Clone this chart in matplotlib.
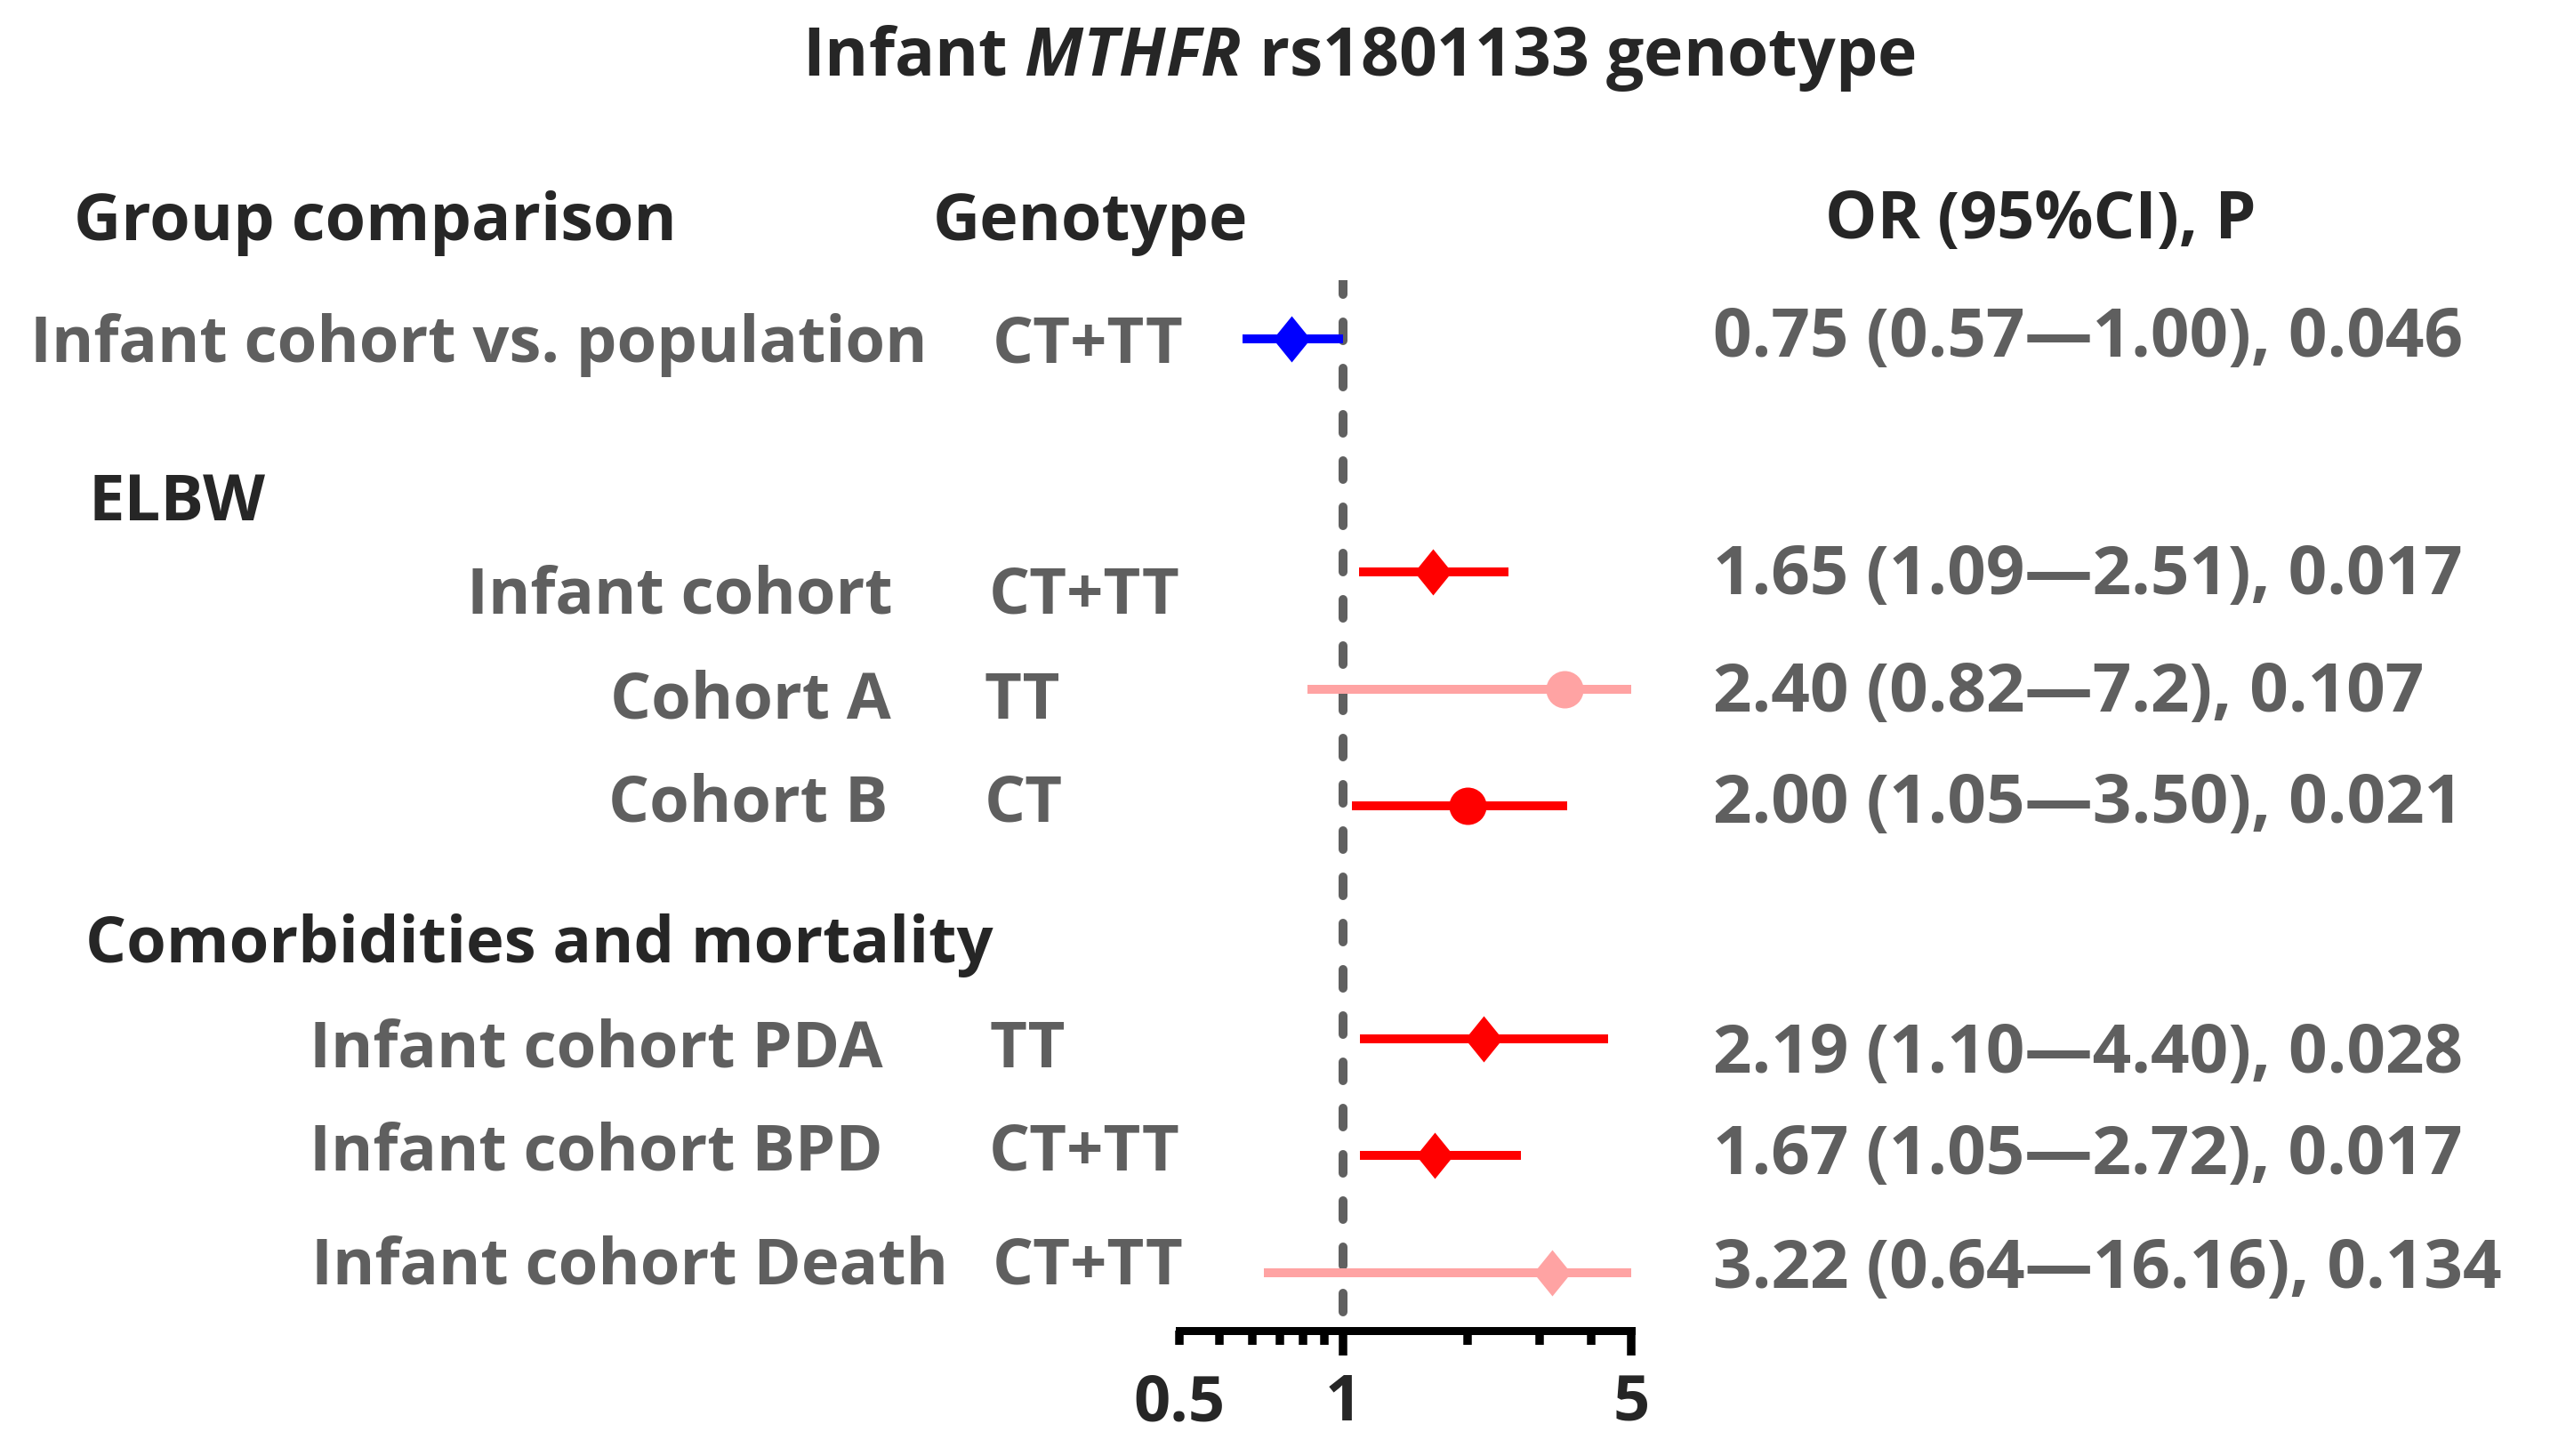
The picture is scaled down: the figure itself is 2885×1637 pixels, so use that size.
import matplotlib
matplotlib.use("Agg")
import matplotlib.pyplot as plt
from matplotlib.path import Path

# ---------------- data ----------------
title_text = r"Infant $\mathit{MTHFR}$ rs1801133 genotype"
header_group = "Group comparison"
header_geno = "Genotype"
header_or = "OR (95%CI), P"
section_labels = ["ELBW", "Comorbidities and mortality"]

groups = ["Infant cohort vs. population", "Infant cohort", "Cohort A", "Cohort B",
          "Infant cohort PDA", "Infant cohort BPD", "Infant cohort Death"]
genotypes = ["CT+TT", "CT+TT", "TT", "CT", "TT", "CT+TT", "CT+TT"]
or_texts = ["0.75 (0.57\u20141.00), 0.046", "1.65 (1.09\u20142.51), 0.017",
            "2.40 (0.82\u20147.2), 0.107", "2.00 (1.05\u20143.50), 0.021",
            "2.19 (1.10\u20144.40), 0.028", "1.67 (1.05\u20142.72), 0.017",
            "3.22 (0.64\u201416.16), 0.134"]
row_index = [0, 2, 3, 4, 6, 7, 8]
or_point = [0.75, 1.65, 3.45, 2.00, 2.19, 1.67, 3.22]
ci_low = [0.57, 1.09, 0.82, 1.05, 1.10, 1.10, 0.64]
ci_high = [1.00, 2.52, 7.2, 3.50, 4.40, 2.70, 16.16]

major_ticks = [1, 5]
major_labels = ["1", "5"]
minor_ticks = [0.4, 0.5, 0.6, 0.7, 0.8, 0.9, 2, 3, 4]
minor_labels = ["0.5", "", "", "", "", "", "", "", ""]

# ---------------- style / layout ----------------
W, H = 2885, 1637
DPI = 100
PT = 72.0 / DPI  # points per pixel
DARK = "#262626"
GRAY = "#5f5f5f"
BLUE = "#0000ff"
RED = "#ff0000"
PINK = "#ffa3a3"
row_colors = [BLUE, RED, PINK, RED, RED, RED, PINK]
row_markers = ["diamond", "diamond", "circle", "circle", "diamond", "diamond", "diamond"]

FS = 52       # general font size in pt
FS_TITLE = 54
FS_OR = 55
WEIGHT = "bold"
FAM = "Open Sans"

plt.rcParams["font.family"] = [FAM, "DejaVu Sans"]
plt.rcParams["mathtext.fontset"] = "custom"
plt.rcParams["mathtext.rm"] = FAM + ":bold"
plt.rcParams["mathtext.it"] = FAM + ":italic:bold"
plt.rcParams["mathtext.bf"] = FAM + ":bold"

fig = plt.figure(figsize=(W / DPI, H / DPI), dpi=DPI)
fig.patch.set_facecolor("white")


def ftxt(x, ybase, s, ha="left", color=GRAY, size=FS):
    fig.text(x / W, 1 - ybase / H, s, ha=ha, va="baseline", fontsize=size,
             fontweight=WEIGHT, color=color)


# axes placement (pixels)
y0_px, row_px = 381.0, 131.2
ax_left, ax_right = 1326, 1834
ax_top = y0_px - 0.5 * row_px
ax_bot = y0_px + 8.5 * row_px
ax = fig.add_axes([ax_left / W, 1 - ax_bot / H, (ax_right - ax_left) / W, (ax_bot - ax_top) / H])
ax.set_xscale("log")
ax.set_xlim(0.4, 5)
ax.set_ylim(8.5, -0.5)
ax.patch.set_alpha(0)

for s in ["top", "right", "left"]:
    ax.spines[s].set_visible(False)
ax.spines["bottom"].set_linewidth(9 * PT)
ax.spines["bottom"].set_color("black")
ax.spines["bottom"].set_capstyle("projecting")
ax.set_yticks([])

ax.set_xticks(major_ticks, labels=major_labels)
ax.set_xticks(minor_ticks, labels=minor_labels, minor=True)
ax.tick_params(axis="x", which="major", direction="out", length=28 * PT, width=9.5 * PT,
               color="black", pad=18 * PT, labelsize=FS, labelcolor=DARK)
ax.tick_params(axis="x", which="minor", direction="out", length=16 * PT, width=9.5 * PT,
               color="black", pad=30 * PT, labelsize=FS, labelcolor=DARK)
for lab in ax.get_xticklabels(which="both"):
    lab.set_fontweight(WEIGHT)

# reference line at OR = 1
lw_ref = 10 * PT
ax.axvline(1, color="#606060", linewidth=lw_ref, linestyle=(3.1, (2.1, 3.1)),
           dash_capstyle="round", zorder=1)

# CI lines and points
diamond = Path([(0, 1), (0.81, 0), (0, -1), (-0.81, 0), (0, 1)],
               [Path.MOVETO, Path.LINETO, Path.LINETO, Path.LINETO, Path.CLOSEPOLY])
for i in range(len(groups)):
    y = row_index[i]
    c = row_colors[i]
    ax.plot([ci_low[i], ci_high[i]], [y, y], color=c, linewidth=10 * PT,
            solid_capstyle="butt", zorder=2)
    if row_markers[i] == "diamond":
        ax.plot([or_point[i]], [y], marker=diamond, markersize=52 * PT, color=c,
                markeredgewidth=0, zorder=3)
    else:
        ax.plot([or_point[i]], [y], marker="o", markersize=42 * PT, color=c,
                markeredgewidth=0, zorder=3)

# ---------------- texts ----------------
fig.text(1528 / W, 1 - 85 / H, title_text, ha="center", va="baseline", fontsize=FS_TITLE,
         fontweight=WEIGHT, color=DARK)
ftxt(83, 270, header_group, color=DARK, size=53)
ftxt(1049, 270, header_geno, color=DARK, size=53)
ftxt(2052, 268, header_or, color=DARK, size=53)
ftxt(100, 585, section_labels[0], color=DARK)
ftxt(96, 1082, section_labels[1], color=DARK)

label_pos = [(34, 407, "left"), (1004, 689, "right"), (1002, 808, "right"),
             (998, 923, "right"), (348, 1200, "left"), (348, 1316, "left"),
             (350, 1443, "left")]
geno_pos = [(1116, 407), (1112, 690), (1107, 808), (1107, 923), (1112, 1200),
            (1112, 1316), (1116, 1443)]
or_base = [401, 668, 800, 925, 1206, 1320, 1448]

for i in range(len(groups)):
    x, yb, ha = label_pos[i]
    ftxt(x, yb, groups[i], ha=ha)
    gx, gy = geno_pos[i]
    ftxt(gx, gy, genotypes[i])
    ftxt(1926, or_base[i], or_texts[i], size=FS_OR)

fig.savefig("out.png", dpi=DPI, facecolor="white")
